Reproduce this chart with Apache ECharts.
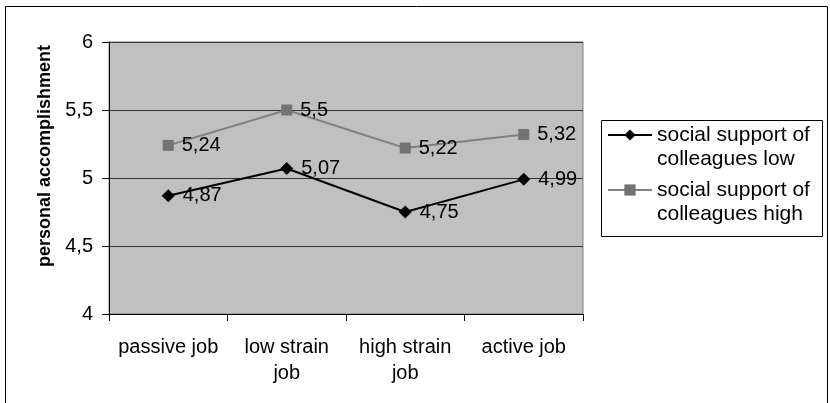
<!DOCTYPE html>
<html>
<head>
<meta charset="utf-8">
<script src="https://cdn.jsdelivr.net/npm/echarts@6/dist/echarts.min.js"></script>
<style>
  html, body { margin: 0; padding: 0; background: #fff; }
  #chart { width: 830px; height: 403px; }
</style>
</head>
<body>
<div id="chart"></div>
<script>
// Job types on the x axis
const categories = ['passive job', 'low strain\njob', 'high strain\njob', 'active job'];
// Mean personal accomplishment per job type
const supportLow = [4.87, 5.07, 4.75, 4.99];
const supportHigh = [5.24, 5.5, 5.22, 5.32];
const seriesNames = ['social support of colleagues low', 'social support of colleagues high'];
const yTicks = { min: 4, max: 6, step: 0.5 };

const FONT = "'Liberation Sans', Arial, sans-serif";
const comma = v => String(v).replace('.', ',');

const chart = echarts.init(document.getElementById('chart'), null, { renderer: 'canvas' });

const labelStyle = {
  show: true,
  position: 'right',
  distance: 8,
  color: '#000',
  fontFamily: FONT,
  fontSize: 20,
  formatter: p => comma(p.value)
};

chart.setOption({
  animation: false,
  backgroundColor: '#fff',
  grid: {
    left: 109, top: 42, right: 247, bottom: 89,
    show: true,
    backgroundColor: '#C0C0C0',
    borderColor: '#808080',
    borderWidth: 1
  },
  xAxis: {
    type: 'category',
    data: categories,
    boundaryGap: true,
    axisLine: { lineStyle: { color: '#000', width: 1 } },
    axisTick: { show: true, length: 7, alignWithLabel: false, lineStyle: { color: '#000' } },
    axisLabel: {
      interval: 0,
      margin: 20,
      color: '#000',
      fontFamily: FONT,
      fontSize: 20,
      lineHeight: 26
    },
    splitLine: { show: false }
  },
  yAxis: {
    type: 'value',
    min: yTicks.min,
    max: yTicks.max,
    interval: yTicks.step,
    name: 'personal accomplishment',
    nameLocation: 'middle',
    nameRotate: 90,
    nameGap: 54,
    nameTextStyle: {
      color: '#000',
      fontFamily: FONT,
      fontSize: 18,
      fontWeight: 'bold',
      padding: [0, 0, 0, 44]
    },
    axisLine: { show: true, lineStyle: { color: '#000', width: 1 } },
    axisTick: { show: true, length: 7, lineStyle: { color: '#000' } },
    axisLabel: {
      margin: 16,
      color: '#000',
      fontFamily: FONT,
      fontSize: 20,
      formatter: v => comma(v)
    },
    splitLine: { show: true, lineStyle: { color: '#333', width: 1 } }
  },
  legend: {
    data: seriesNames,
    orient: 'vertical',
    left: 607,
    top: 99,
    padding: 0,
    itemGap: -17,
    itemWidth: 44,
    itemHeight: 14,
    // leading blank line keeps the first text line level with the marker
    formatter: name => '\n' + name.replace(' of ', ' of\n'),
    textStyle: {
      color: '#000',
      fontFamily: FONT,
      fontSize: 21,
      lineHeight: 24
    }
  },
  graphic: [
    {
      type: 'rect',
      silent: true,
      shape: { x: 5.5, y: 6.5, width: 822, height: 420 },
      style: { fill: 'none', stroke: '#000', lineWidth: 1 }
    },
    {
      type: 'rect',
      silent: true,
      shape: { x: 601.5, y: 120.5, width: 221, height: 116 },
      style: { fill: 'none', stroke: '#000', lineWidth: 1 }
    }
  ],
  series: [
    {
      name: seriesNames[0],
      type: 'line',
      data: supportLow,
      symbol: 'diamond',
      symbolSize: 13,
      color: '#000',
      lineStyle: { color: '#000', width: 2 },
      itemStyle: { color: '#000' },
      label: labelStyle,
      z: 3
    },
    {
      name: seriesNames[1],
      type: 'line',
      data: supportHigh,
      symbol: 'rect',
      symbolSize: 11,
      color: '#737373',
      lineStyle: { color: '#808080', width: 2 },
      itemStyle: { color: '#737373' },
      label: labelStyle,
      z: 2
    }
  ]
});
</script>
</body>
</html>
